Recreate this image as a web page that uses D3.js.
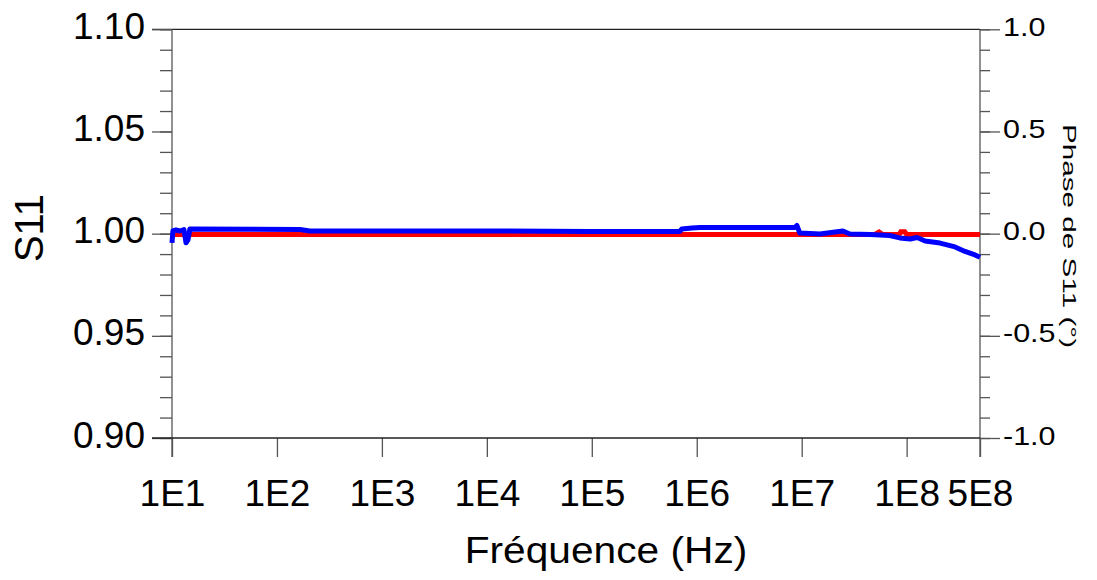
<!DOCTYPE html>
<html>
<head>
<meta charset="utf-8">
<script src="https://cdn.jsdelivr.net/npm/d3@7"></script>
<style>
  body { margin: 0; background: #fff; }
  svg text { font-family: "Liberation Sans", Arial, sans-serif; fill: #000; }
</style>
</head>
<body>
<div id="chart"></div>
<script>
// fréquences (Hz) et valeurs
const redFreq = [10, 1e3, 1e5, 1e7, 5.0e7, 5.46e7, 5.9e7, 8.5e7, 8.8e7, 9.6e7, 1.0e8, 2e8, 5e8];
const redS11 = [0.9996, 0.9996, 0.9996, 0.9996, 0.9996, 1.0008, 0.9996, 0.9996, 1.0009, 1.0009, 0.9996, 0.9996, 0.9996];

const blueFreq = [10, 10.2, 10.9, 11.9, 13.0, 13.6, 14.2, 14.8, 166, 206, 13300, 96000, 6.9e5, 7.2e5,
  9.0e5, 1.07e6, 8.6e6, 9.0e6, 9.6e6, 1.2e7, 1.49e7, 2.47e7, 2.88e7, 4.48e7, 6.9e7, 8.6e7,
  1.08e8, 1.26e8, 1.5e8, 2.08e8, 2.89e8, 3.6e8, 4.48e8, 5e8];
const bluePhase = [-0.045, 0.013, 0.018, 0.013, 0.02, -0.045, -0.03, 0.023, 0.02, 0.013, 0.013, 0.011, 0.011, 0.023,
  0.028, 0.03, 0.03, 0.04, 0.003, 0.001, -0.0015, 0.013, -0.0015, -0.004, -0.009, -0.021,
  -0.026, -0.019, -0.036, -0.046, -0.065, -0.087, -0.104, -0.116];

const xTicks = [1e1, 1e2, 1e3, 1e4, 1e5, 1e6, 1e7, 1e8, 5e8];
const xTickLabels = ["1E1", "1E2", "1E3", "1E4", "1E5", "1E6", "1E7", "1E8", "5E8"];
const leftTicks = [0.90, 0.95, 1.00, 1.05, 1.10];
const rightTicks = [-1.0, -0.5, 0.0, 0.5, 1.0];

const width = 1097, height = 580;
const plotL = 172, plotR = 980, plotT = 29.3, plotB = 438;

const svg = d3.select("#chart").append("svg")
  .attr("width", width).attr("height", height);

const x = d3.scaleLog().domain([10, 5e8]).range([plotL, plotR]);
const yL = d3.scaleLinear().domain([0.90, 1.10]).range([plotB, plotT]);
const yR = d3.scaleLinear().domain([-1, 1]).range([plotB, plotT]);

// ligne horizontale du haut
svg.append("line").attr("x1", plotL - 20).attr("x2", plotR).attr("y1", plotT).attr("y2", plotT)
  .attr("stroke", "#222").attr("stroke-width", 1.3);

// axe gauche : petites graduations puis grandes
const gLeft = svg.append("g").attr("transform", `translate(${plotL},0)`);
gLeft.call(d3.axisLeft(yL).tickValues(d3.range(0.90, 1.1001, 0.01)).tickSize(12).tickFormat(""));
gLeft.append("g").call(d3.axisLeft(yL).tickValues(leftTicks).tickSize(20).tickFormat(d3.format(".2f")));
gLeft.selectAll("path.domain").remove();
gLeft.selectAll("line").attr("stroke", "#555").attr("stroke-width", 1.3);
gLeft.selectAll("text").attr("font-size", 37).attr("x", -27).attr("dy", null).attr("y", 9);
gLeft.append("line").attr("y1", plotT).attr("y2", plotB + 19).attr("stroke", "#555").attr("stroke-width", 1.3);

// axe droit (texte un peu étiré comme sur l'original)
const gRight = svg.append("g").attr("transform", `translate(${plotR},0)`);
gRight.call(d3.axisRight(yR).tickValues(d3.range(-1, 1.001, 0.1)).tickSize(10).tickFormat(""));
gRight.append("g").call(d3.axisRight(yR).tickValues(rightTicks).tickSize(20)
  .tickFormat(d => d3.format(".1f")(d).replace("\u2212", "-")));
gRight.selectAll("path.domain").remove();
gRight.selectAll("line").attr("stroke", "#555").attr("stroke-width", 1.3);
gRight.selectAll("text").attr("font-size", 25).attr("x", null).attr("dy", null)
  .attr("transform", "translate(23,6) scale(1.22,1)");
gRight.append("line").attr("y1", plotT).attr("y2", plotB + 19).attr("stroke", "#555").attr("stroke-width", 1.3);

// axe du bas
const gBottom = svg.append("g").attr("transform", `translate(0,${plotB})`);
gBottom.call(d3.axisBottom(x).tickValues(xTicks).tickSize(19)
  .tickFormat((d, i) => xTickLabels[i]));
gBottom.select("path.domain").remove();
gBottom.selectAll("line").attr("stroke", "#555").attr("stroke-width", 1.3);
gBottom.selectAll("text").attr("font-size", 37).attr("y", 68).attr("dy", null);
gBottom.append("line").attr("x1", plotL - 20).attr("x2", plotR).attr("stroke", "#222").attr("stroke-width", 1.3);

// séries
const red = redFreq.map((f, i) => [f, redS11[i]]);
const blue = blueFreq.map((f, i) => [f, bluePhase[i]]);

svg.append("path").datum(red)
  .attr("fill", "none").attr("stroke", "#ff0000").attr("stroke-width", 5)
  .attr("d", d3.line().x(d => x(d[0])).y(d => yL(d[1])));

svg.append("path").datum(blue)
  .attr("fill", "none").attr("stroke", "#0000ff").attr("stroke-width", 5)
  .attr("stroke-linejoin", "round")
  .attr("d", d3.line().x(d => x(d[0])).y(d => yR(d[1])));

// titres des axes
svg.append("text").attr("transform", "translate(606,563) scale(1.13,1)")
  .attr("text-anchor", "middle").attr("font-size", 36).text("Fréquence (Hz)");

svg.append("text").attr("transform", "translate(43,228) rotate(-90)")
  .attr("text-anchor", "middle").attr("font-size", 40).text("S11");

svg.append("text").attr("transform", "translate(1063,236) rotate(90) scale(1.65,1)")
  .attr("text-anchor", "middle").attr("font-size", 18).text("Phase de S11 (°)");
</script>
</body>
</html>
